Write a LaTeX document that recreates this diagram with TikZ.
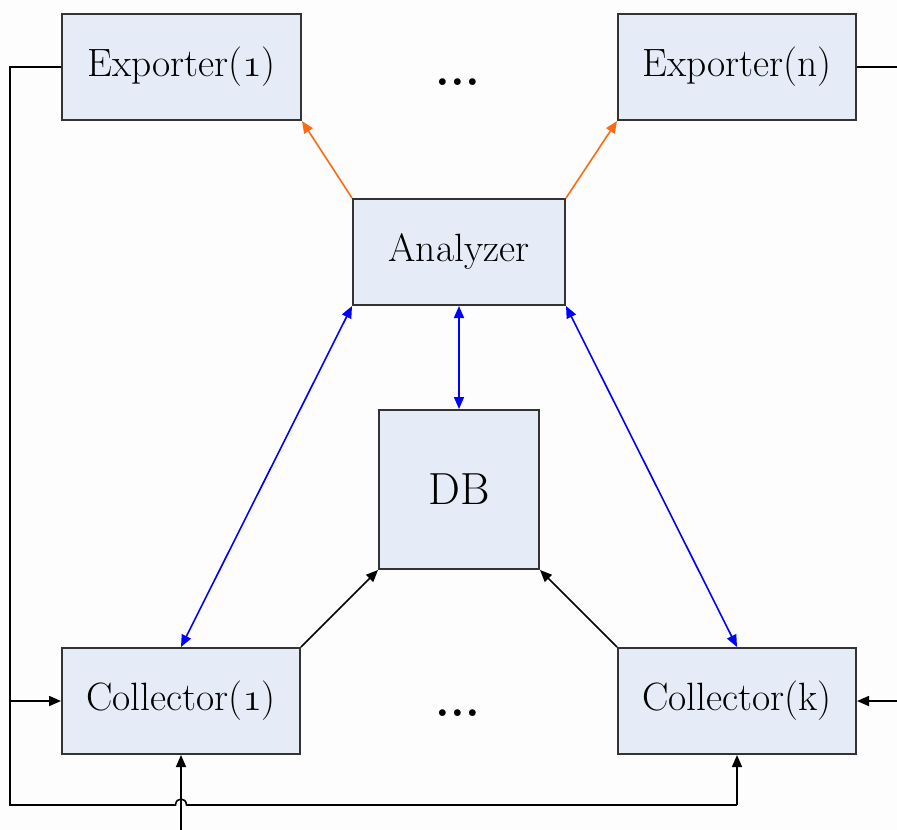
\documentclass[tikz,border=0pt]{standalone}
\usepackage{fontspec}
\usepackage{graphicx}
\usetikzlibrary{arrows.meta}
\definecolor{boxfill}{HTML}{E6ECF7}
\definecolor{boxline}{HTML}{333333}
\definecolor{bg}{HTML}{FDFDFD}
\definecolor{orangeline}{HTML}{FF6A10}
\newcommand{\osone}{\scalebox{1.588}{\fontencoding{OML}\fontfamily{cmm}\fontseries{m}\fontshape{it}\fontsize{24.88}{28}\selectfont 1}}
\begin{document}
\begin{tikzpicture}[x=1pt,y=-1pt,
  box/.style={draw=boxline,fill=boxfill,line width=2pt,inner sep=0pt,
    font=\fontsize{39.5}{44}\selectfont},
  tipT/.tip={Triangle[length=12pt,width=10pt]},
  conn/.style={line width=1.6pt},
  blk/.style={conn,draw=black,-tipT},
  blu/.style={conn,draw=blue,tipT-tipT},
  org/.style={conn,draw=orangeline,-tipT},
  dotsnode/.style={font=\fontsize{47}{50}\selectfont\bfseries,anchor=base,inner sep=0pt}]
\fill[bg] (0,0) rectangle (897,830);
\useasboundingbox (0,0) rectangle (897,830);

\node[box,minimum width=239pt,minimum height=106pt] (exp1) at (181.5,67) {Exporter(\osone)};
\node[box,minimum width=238pt,minimum height=106pt] (expn) at (737,67) {Exporter(n)};
\node[box,minimum width=212pt,minimum height=106pt] (ana) at (459,252) {Analyzer};
\node[box,minimum width=160pt,minimum height=159pt,font=\fontsize{45}{48}\selectfont] (db) at (459,489.5) {DB};
\node[box,minimum width=238pt,minimum height=106pt] (col1) at (181,701) {Collector(\osone)};
\node[box,minimum width=238pt,minimum height=106pt] (colk) at (737,701) {Collector(k)};
\node[dotsnode] (dtop) at (458,85) {...};
\node[dotsnode] (dbot) at (458,716) {...};

% orange
\draw[org] (ana.north west) -- (exp1.south east);
\draw[org] (ana.north east) -- (expn.south west);
% blue
\draw[blu] (ana.south west) -- (col1.north);
\draw[blu] (ana.south) -- (db.north);
\draw[blu] (ana.south east) -- (colk.north);
% black to DB
\draw[blk] (col1.north east) -- (db.south west);
\draw[blk] (colk.north west) -- (db.south east);

% left loop
\coordinate (ltop) at (10,67);
\coordinate (lbot) at (10,805);
\coordinate (lmid) at (10,701);
\coordinate (hopa) at (175.5,805);
\coordinate (hopb) at (186.5,805);
\coordinate (rbot) at (737,805);
\draw[conn] (exp1.west) -- (ltop) -- (lbot) -- (hopa)
  .. controls (176,797) and (186,797) .. (hopb) -- (rbot);
\draw[blk] (rbot) -- (colk.south);
\draw[blk] (lmid) -- (col1.west);
\coordinate (vin) at (181,830);
\draw[blk] (vin) -- (col1.south);

% right side
\coordinate (rtop) at (897,67);
\coordinate (rmid) at (897,701);
\draw[conn] (expn.east) -- (rtop);
\draw[blk] (rmid) -- (colk.east);
\end{tikzpicture}
\end{document}
